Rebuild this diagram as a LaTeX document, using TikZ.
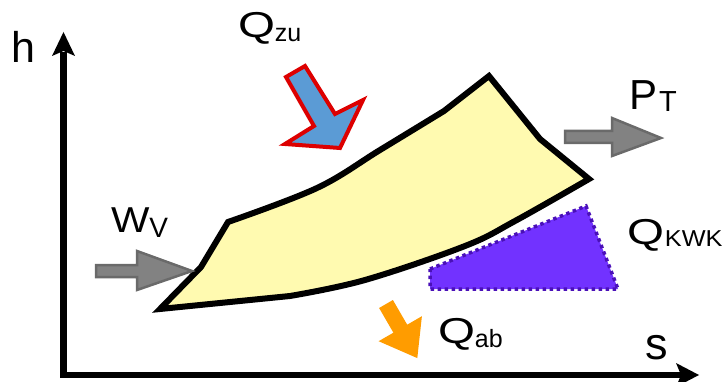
\documentclass[tikz,border=0pt]{standalone}
\usepackage{fontspec}
\setmainfont{Liberation Sans}
\usepackage{graphicx}
\definecolor{cyclefill}{HTML}{FFFAB0}
\definecolor{qblue}{HTML}{5B9BD5}
\definecolor{qred}{HTML}{DD0000}
\definecolor{qorange}{HTML}{FF9C00}
\definecolor{kwkfill}{HTML}{7232FF}
\definecolor{kwkedge}{HTML}{4A10B8}
\definecolor{arrowgray}{HTML}{828282}
\definecolor{arrowedge}{HTML}{6A6A6A}
\tikzset{
  axisline/.style={line width=6.5, black, line join=miter},
  axishead/.style={fill=black, draw=none},
  cycleshape/.style={fill=cyclefill, draw=black, line width=6, line join=miter},
  kwkshape/.style={fill=kwkfill, draw=kwkedge, line width=3.5, dash pattern=on 3.5pt off 3.5pt},
  grayarrow/.style={fill=arrowgray, draw=arrowedge, line width=2.5, line join=miter},
  bluearrow/.style={fill=qblue, draw=qred, line width=4, line join=miter},
  orangearrow/.style={fill=qorange, draw=none},
  lbl/.style={anchor=base west, inner sep=0pt, outer sep=0pt, text=black}
}
\begin{document}
\begin{tikzpicture}[x=1pt,y=-1pt]
\useasboundingbox (0,0) rectangle (728,382);

% axes
\coordinate (origin) at (63.5,375);
\coordinate (ytop) at (63.5,52);
\coordinate (xend) at (681,375);
\draw[axisline] (ytop) -- (origin) -- (xend);
\fill[axishead] (63.5,32) -- (75,56) -- (63.5,51) -- (52,56) -- cycle;
\fill[axishead] (699,375) -- (676,387) -- (681,375) -- (676,363) -- cycle;

% axis labels
\node[lbl] (hlab) at (12,63) {\fontsize{43}{43}\selectfont h};
\node[lbl] (slab) at (645,359) {\fontsize{45}{45}\selectfont s};

% purple region (Q_KWK)
\draw[kwkshape] (430,269) -- (586,206) -- (618,289) -- (430,289) -- cycle;

% cycle shape
\draw[cycleshape] (160,309) -- (201,267) -- (228,222)
  -- plot[smooth, tension=0.6] coordinates {(228,222) (317,188) (380,150) (444,111)}
  -- (489,76) -- (540,139) -- (589,179)
  -- plot[smooth, tension=0.6] coordinates {(589,179) (515,221) (465,246) (365,280) (290,296)}
  -- cycle;

% Q_zu arrow
\draw[bluearrow] (286,77) -- (314,126) -- (285,144) -- (340,148) -- (363,100) -- (335,114) -- (305,66) -- cycle;

% Q_ab arrow
\fill[orangearrow] (379.1,308) -- (393.4,332.7) -- (378.6,341.2) -- (417.3,358.1)
  -- (421.9,316.2) -- (407.2,324.7) -- (392.9,300) -- cycle;

% W_V arrow
\draw[grayarrow] (96,265) -- (137,265) -- (137,251) -- (192,271) -- (137,290) -- (137,277) -- (96,277) -- cycle;

% P_T arrow
\draw[grayarrow] (565,131) -- (612,131) -- (612,118) -- (661,138) -- (612,156) -- (612,143) -- (565,143) -- cycle;

% labels
\node[lbl] (qzu) at (238,38) {\fontsize{36}{36}\selectfont\scalebox{1.32}[1]{Q}\raisebox{-4pt}{\fontsize{25}{25}\selectfont zu}};
\node[lbl] (pt) at (629,110) {\fontsize{42}{42}\selectfont P\hspace{2pt}\raisebox{-2pt}{\fontsize{29}{29}\selectfont T}};
\node[lbl] (wv) at (111,233) {\fontsize{36}{36}\selectfont\scalebox{1.13}[1]{W}\raisebox{-5pt}{\fontsize{28}{28}\selectfont V}};
\node[lbl] (qkwk) at (627,244) {\fontsize{36}{36}\selectfont\scalebox{1.32}[1]{Q}\hspace{1pt}\raisebox{-2pt}{\fontsize{23}{23}\selectfont\scalebox{1.1}[1]{KWK}}};
\node[lbl] (qab) at (438,343) {\fontsize{36}{36}\selectfont\scalebox{1.32}[1]{Q}\raisebox{-4pt}{\fontsize{25}{25}\selectfont ab}};
\end{tikzpicture}
\end{document}
